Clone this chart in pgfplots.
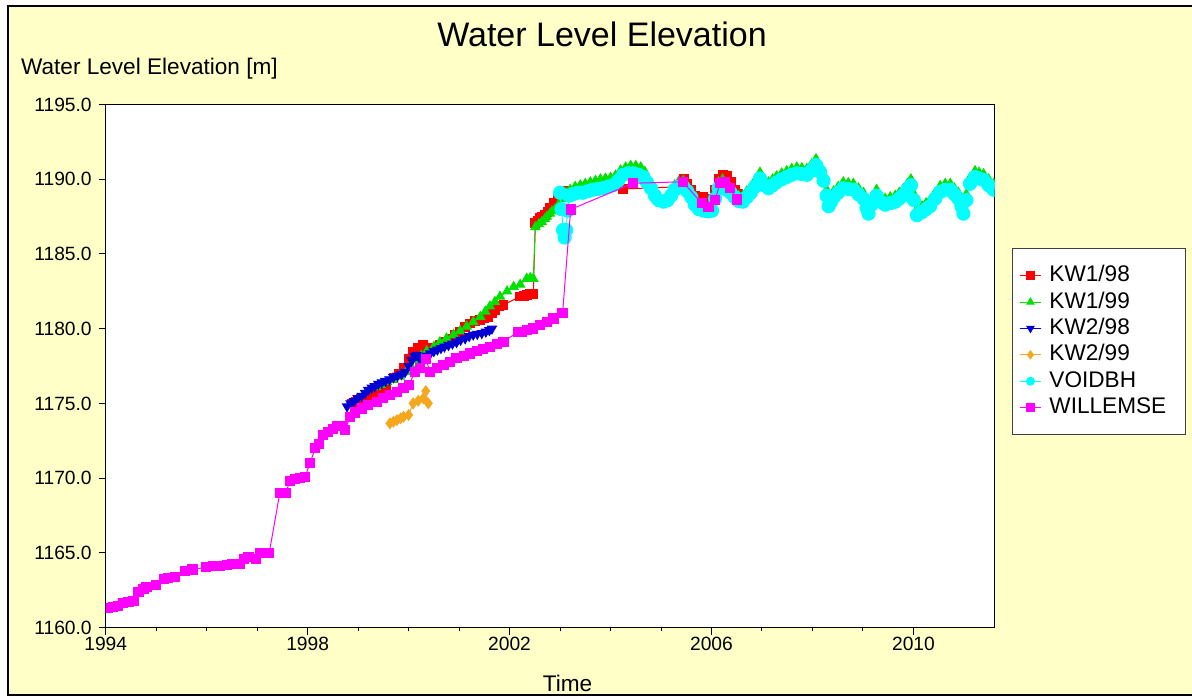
\documentclass[border=0pt]{standalone}
\usepackage{pgfplots}
\pgfplotsset{compat=1.18}
\usepackage{fontspec}
\setmainfont{Liberation Sans}
\definecolor{bgy}{RGB}{255,255,200}
\definecolor{kwred}{RGB}{255,0,0}
\definecolor{kwgreen}{RGB}{0,225,0}
\definecolor{kwblue}{RGB}{0,0,210}
\definecolor{kworange}{RGB}{245,168,30}
\definecolor{kwcyan}{RGB}{0,255,255}
\definecolor{kwmag}{RGB}{255,0,255}
\begin{document}
\begin{tikzpicture}
\fill[white] (0,0) rectangle (596pt,349pt);
\path[use as bounding box] (0,0) rectangle (596pt,349pt);
\fill[bgy] (4pt,1.5pt) rectangle (596pt,346pt);
\draw[black, line width=1pt] (596pt,346pt) -- (4pt,346pt) -- (4pt,1.5pt) -- (596pt,1.5pt);
\node[anchor=base, inner sep=0pt, font=\fontsize{17}{20}\selectfont] at (301pt,326pt) {Water Level Elevation};
\node[anchor=base west, inner sep=0pt, font=\fontsize{11.3}{13}\selectfont] at (10.35pt,312pt) {Water Level Elevation [m]};
\node[anchor=base, inner sep=0pt, font=\fontsize{11.3}{13}\selectfont] at (283.75pt,3.5pt) {Time};
\begin{axis}[
  at={(52.85pt,35.15pt)}, anchor=south west,
  scale only axis, width=444.5pt, height=261.6pt,
  xmin=1994, xmax=2011.61, ymin=1160, ymax=1195,
  xtick={1994,1998,2002,2006,2010}, minor x tick num=3,
  ytick={1160,1165,1170,1175,1180,1185,1190,1195},
  tick pos=left, tick align=outside,
  major tick length=3.5pt, minor tick length=1.8pt,
  tick style={black, line width=0.5pt},
  axis line style={black, line width=0.6pt},
  axis background/.style={fill=white},
  /pgf/number format/assume math mode=true,
  tick label style={font=\fontsize{9.6}{11}\selectfont},
  xticklabel style={yshift=2.5pt, /pgf/number format/.cd, 1000 sep={}},
  yticklabel style={/pgf/number format/.cd, fixed, fixed zerofill, precision=1, 1000 sep={}},
  clip marker paths=true,
  legend cell align=left,
  legend style={at={(1.0195,0.7257)}, anchor=north west, draw=black!75, fill=white,
    font=\fontsize{11.3}{13}\selectfont, inner xsep=3.5pt, inner ysep=7pt,
    row sep=0pt, column sep=4pt,
    nodes={text height=8.2pt, text depth=2.2pt, inner ysep=1.4pt, inner xsep=0pt}},
  legend image code/.code={\draw[#1, mark repeat=2, mark phase=2, mark size=2pt] plot coordinates {(0pt,0pt) (5.25pt,0pt) (10.5pt,0pt)};},
  every axis plot/.append style={line width=0.5pt},
]
% KW1/98
\addplot[color=kwred, mark=square*, mark size=2.2pt] coordinates {
(1998.87,1175.0) (1998.95,1175.1) (1999.05,1175.3) (1999.20,1175.5) (1999.30,1175.65)
(1999.43,1175.8) (1999.55,1176.1) (1999.70,1176.7) (1999.80,1177.0) (1999.90,1177.4)
(2000.00,1178.0) (2000.09,1178.45) (2000.19,1178.7) (2000.29,1178.9) (2000.36,1178.7)
(2000.43,1178.6) (2000.52,1178.75) (2000.62,1178.9) (2000.72,1179.1) (2000.82,1179.35)
(2000.92,1179.6) (2001.02,1179.8) (2001.12,1180.1) (2001.22,1180.35) (2001.32,1180.5)
(2001.42,1180.6) (2001.50,1180.7) (2001.58,1180.8) (2001.65,1181.05) (2001.71,1181.25)
(2001.80,1181.5) (2001.88,1181.6) (2002.21,1182.15) (2002.28,1182.2) (2002.34,1182.25)
(2002.41,1182.3) (2002.47,1182.3) (2002.51,1187.05) (2002.56,1187.2) (2002.60,1187.4)
(2002.65,1187.5) (2002.70,1187.6) (2002.75,1187.8) (2002.80,1188.05) (2002.87,1188.4)
(2002.95,1188.7) (2003.05,1189.0) (2003.15,1189.2) (2003.30,1189.2) (2004.25,1189.35)
(2005.38,1189.5) (2005.45,1190.0) (2005.52,1189.7) (2005.60,1189.3) (2005.67,1188.9)
(2005.75,1188.8) (2005.84,1188.8) (2005.93,1188.6) (2006.01,1188.7) (2006.07,1189.3)
(2006.14,1190.0) (2006.22,1190.3) (2006.30,1190.2) (2006.38,1189.8) (2006.46,1189.3)
(2006.52,1189.0)
};
\addlegendentry{KW1/98}
% KW1/99
\addplot[color=kwgreen, mark=triangle*, mark size=2.6pt] coordinates {
(1999.35,1176.1) (1999.45,1176.25) (1999.57,1176.45) (1999.70,1176.6) (1999.83,1176.8)
(1999.95,1177.1) (2000.05,1177.5) (2000.15,1177.9) (2000.25,1178.2) (2000.36,1178.5)
(2000.50,1178.8) (2000.62,1179.1) (2000.75,1179.35) (2000.89,1179.6) (2001.02,1179.85)
(2001.15,1180.15) (2001.28,1180.45) (2001.42,1180.8) (2001.52,1181.15) (2001.61,1181.5)
(2001.71,1181.8) (2001.81,1182.15) (2001.95,1182.5) (2002.08,1182.8) (2002.21,1182.95)
(2002.34,1183.35) (2002.41,1183.4) (2002.47,1183.35) (2002.51,1186.8) (2002.58,1187.0)
(2002.64,1187.15) (2002.70,1187.35) (2002.74,1187.5) (2002.80,1187.7) (2002.84,1187.85)
(2002.90,1188.0) (2002.97,1188.3) (2003.05,1188.7) (2003.13,1189.1) (2003.20,1189.3)
(2003.30,1189.5) (2003.40,1189.6) (2003.50,1189.7) (2003.60,1189.8) (2003.70,1189.9)
(2003.80,1190.0) (2003.90,1190.05) (2004.00,1190.1) (2004.10,1190.25) (2004.20,1190.6)
(2004.30,1190.8) (2004.40,1190.9) (2004.50,1190.9) (2004.60,1190.8) (2004.68,1190.5)
(2004.76,1189.9) (2004.84,1189.2) (2004.92,1188.6) (2005.00,1188.4) (2005.10,1188.5)
(2005.18,1188.9) (2005.27,1189.6) (2005.35,1189.85) (2005.44,1189.9) (2005.52,1189.5)
(2005.60,1189.0) (2005.67,1188.5) (2005.75,1188.1) (2005.84,1187.9) (2005.93,1187.7)
(2006.01,1187.75) (2006.07,1188.9) (2006.14,1189.8) (2006.22,1190.0) (2006.30,1189.7)
(2006.38,1189.4) (2006.46,1189.1) (2006.54,1188.9) (2006.62,1188.9) (2006.70,1189.2)
(2006.78,1189.5) (2006.86,1189.9) (2006.96,1190.45) (2007.05,1190.0) (2007.13,1189.8)
(2007.21,1190.0) (2007.29,1190.2) (2007.39,1190.4) (2007.49,1190.55) (2007.59,1190.7)
(2007.69,1190.8) (2007.79,1190.75) (2007.89,1190.7) (2007.98,1191.0) (2008.07,1191.35)
(2008.15,1190.9) (2008.22,1190.3) (2008.28,1189.3) (2008.32,1188.6) (2008.37,1188.9)
(2008.42,1189.2) (2008.51,1189.5) (2008.61,1189.8) (2008.71,1189.75) (2008.81,1189.7)
(2008.91,1189.4) (2009.01,1189.1) (2009.07,1188.5) (2009.11,1188.1) (2009.17,1188.7)
(2009.27,1189.3) (2009.35,1188.9) (2009.44,1188.7) (2009.54,1188.8) (2009.64,1188.9)
(2009.72,1189.1) (2009.80,1189.35) (2009.88,1189.7) (2009.95,1190.0) (2010.01,1189.0)
(2010.07,1188.0) (2010.17,1188.2) (2010.25,1188.4) (2010.33,1188.6) (2010.43,1189.1)
(2010.53,1189.55) (2010.63,1189.7) (2010.73,1189.7) (2010.81,1189.4) (2010.89,1189.1)
(2010.95,1188.6) (2010.99,1188.1) (2011.05,1189.0) (2011.12,1190.1) (2011.22,1190.55)
(2011.30,1190.45) (2011.39,1190.35) (2011.49,1190.0) (2011.59,1189.7)
};
\addlegendentry{KW1/99}
% KW2/98
\addplot[color=kwblue, mark=triangle*, mark options={rotate=180}, mark size=2.6pt] coordinates {
(1998.78,1174.8) (1998.85,1175.0) (1998.92,1175.15) (1998.99,1175.35) (1999.07,1175.5)
(1999.14,1175.7) (1999.20,1175.9) (1999.27,1176.05) (1999.33,1176.15) (1999.40,1176.3)
(1999.47,1176.4) (1999.54,1176.5) (1999.62,1176.6) (1999.70,1176.75) (1999.78,1176.85)
(1999.86,1176.95) (1999.93,1177.1) (2000.00,1177.5) (2000.06,1177.9) (2000.12,1178.15)
(2000.16,1178.25) (2000.22,1178.0) (2000.29,1178.1) (2000.36,1178.2) (2000.43,1178.35)
(2000.50,1178.5) (2000.57,1178.6) (2000.64,1178.7) (2000.71,1178.8) (2000.79,1178.9)
(2000.87,1179.0) (2000.95,1179.1) (2001.03,1179.25) (2001.12,1179.35) (2001.20,1179.5)
(2001.28,1179.6) (2001.36,1179.65) (2001.45,1179.7) (2001.53,1179.8) (2001.60,1179.9)
(2001.65,1180.0)
};
\addlegendentry{KW2/98}
% KW2/99
\addplot[color=kworange, mark=diamond*, mark size=2.6pt] coordinates {
(1999.63,1173.67) (1999.70,1173.78) (1999.77,1173.89) (1999.84,1174.0) (1999.90,1174.11)
(2000.00,1174.23) (2000.09,1175.01) (2000.19,1175.18) (2000.29,1175.34) (2000.34,1175.83)
(2000.39,1175.01)
};
\addlegendentry{KW2/99}
% VOIDBH
\addplot[color=kwcyan, mark=*, mark size=3.3pt] coordinates {
(2003.00,1189.1) (2003.03,1188.0) (2003.06,1186.6) (2003.09,1186.1) (2003.12,1186.6)
(2003.15,1187.9) (2003.18,1188.9) (2003.25,1189.0) (2003.35,1189.1) (2003.45,1189.1)
(2003.55,1189.2) (2003.65,1189.3) (2003.75,1189.35) (2003.85,1189.4) (2003.95,1189.5)
(2004.05,1189.6) (2004.15,1189.9) (2004.25,1190.3) (2004.35,1190.4) (2004.45,1190.4)
(2004.55,1190.3) (2004.65,1190.15) (2004.72,1189.8) (2004.80,1189.4) (2004.88,1188.9)
(2004.96,1188.6) (2005.05,1188.5) (2005.13,1188.6) (2005.20,1188.9) (2005.27,1189.3)
(2005.35,1189.5) (2005.44,1189.5) (2005.52,1189.2) (2005.60,1188.8) (2005.67,1188.3)
(2005.75,1188.0) (2005.84,1187.9) (2005.93,1187.85) (2006.01,1187.9) (2006.07,1188.7)
(2006.14,1189.4) (2006.22,1189.5) (2006.30,1189.3) (2006.38,1189.1) (2006.46,1188.8)
(2006.54,1188.55) (2006.62,1188.5) (2006.70,1188.8) (2006.78,1189.1) (2006.86,1189.5)
(2006.96,1190.05) (2007.05,1189.6) (2007.13,1189.4) (2007.21,1189.6) (2007.29,1189.8)
(2007.39,1190.0) (2007.49,1190.15) (2007.59,1190.3) (2007.69,1190.4) (2007.79,1190.35)
(2007.89,1190.3) (2007.98,1190.6) (2008.07,1190.95) (2008.15,1190.5) (2008.22,1189.9)
(2008.28,1188.9) (2008.32,1188.2) (2008.37,1188.5) (2008.42,1188.8) (2008.51,1189.1)
(2008.61,1189.4) (2008.71,1189.35) (2008.81,1189.3) (2008.91,1189.0) (2009.01,1188.7)
(2009.07,1188.1) (2009.11,1187.7) (2009.17,1188.3) (2009.27,1188.9) (2009.35,1188.5)
(2009.44,1188.3) (2009.54,1188.4) (2009.64,1188.5) (2009.72,1188.7) (2009.80,1188.95)
(2009.88,1189.3) (2009.95,1189.6) (2010.01,1188.6) (2010.07,1187.6) (2010.17,1187.8)
(2010.25,1188.0) (2010.33,1188.2) (2010.43,1188.7) (2010.53,1189.15) (2010.63,1189.3)
(2010.73,1189.3) (2010.81,1189.0) (2010.89,1188.7) (2010.95,1188.2) (2010.99,1187.7)
(2011.05,1188.6) (2011.12,1189.7) (2011.22,1190.15) (2011.30,1190.05) (2011.39,1189.95)
(2011.49,1189.6) (2011.59,1189.3)
};
\addlegendentry{VOIDBH}
% WILLEMSE
\addplot[color=kwmag, mark=square*, mark size=2.3pt] coordinates {
(1994.05,1161.30) (1994.15,1161.36) (1994.25,1161.45) (1994.35,1161.63) (1994.45,1161.74)
(1994.55,1161.81) (1994.65,1162.37) (1994.75,1162.57) (1994.81,1162.70) (1995.00,1162.86)
(1995.16,1163.24) (1995.24,1163.35) (1995.37,1163.37) (1995.57,1163.81) (1995.72,1163.90)
(1995.99,1164.04) (1996.13,1164.15) (1996.26,1164.15) (1996.40,1164.17) (1996.50,1164.24)
(1996.66,1164.26) (1996.74,1164.60) (1996.83,1164.75) (1996.98,1164.60) (1997.06,1164.98)
(1997.16,1165.02) (1997.24,1165.02) (1997.45,1169.03) (1997.57,1169.03) (1997.65,1169.83)
(1997.75,1169.93) (1997.85,1170.03) (1997.95,1170.10) (1998.05,1171.04) (1998.15,1172.00)
(1998.23,1172.27) (1998.31,1172.89) (1998.41,1173.07) (1998.51,1173.30) (1998.58,1173.50)
(1998.68,1173.49) (1998.74,1173.22) (1998.84,1174.09) (1998.94,1174.40) (1999.07,1174.67)
(1999.20,1174.90) (1999.37,1175.12) (1999.50,1175.34) (1999.63,1175.57) (1999.77,1175.79)
(1999.90,1176.01) (2000.00,1176.23) (2000.13,1177.12) (2000.23,1177.35) (2000.34,1177.95)
(2000.43,1177.12) (2000.56,1177.35) (2000.69,1177.57) (2000.82,1177.79) (2000.95,1178.02)
(2001.09,1178.17) (2001.22,1178.35) (2001.35,1178.51) (2001.48,1178.64) (2001.61,1178.80)
(2001.75,1178.98) (2001.88,1179.13) (2002.17,1179.80) (2002.24,1179.76) (2002.34,1179.91)
(2002.47,1180.02) (2002.60,1180.25) (2002.74,1180.47) (2002.87,1180.69) (2003.05,1181.03)
(2003.21,1187.98) (2004.44,1189.73) (2005.43,1189.83) (2005.81,1188.39) (2005.94,1188.16)
(2006.07,1188.61) (2006.17,1189.73) (2006.27,1189.83) (2006.37,1189.39) (2006.50,1188.65)
};
\addlegendentry{WILLEMSE\rule{6pt}{0pt}}
\end{axis}
\end{tikzpicture}
\end{document}
